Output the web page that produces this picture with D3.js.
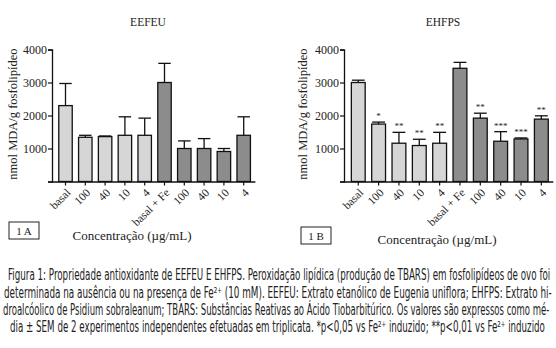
<!DOCTYPE html>
<html><head><meta charset="utf-8">
<script src="https://cdn.jsdelivr.net/npm/d3@7"></script>
<style>
body{margin:0;background:#fff;}
svg{display:block;}
.serif{font-family:"Liberation Serif","DejaVu Serif",serif;fill:#222;}
.cap{font-family:"Liberation Sans Narrow","DejaVu Sans Condensed","Liberation Sans",sans-serif;fill:#222;}
</style></head>
<body>
<script>
const categories = ["basal","100","40","10","4","basal + Fe","100","40","10","4"];
const groups = ["light","light","light","light","light","dark","dark","dark","dark","dark"];
const eefeuMean = [2300,1340,1360,1400,1400,3000,1000,1000,910,1400];
const eefeuErr  = [2970,1400,1380,1960,1920,3580,1230,1300,1000,1960];
const ehfpsMean = [3000,1740,1160,1090,1160,3430,1920,1220,1290,1890];
const ehfpsErr  = [3070,1800,1490,1280,1490,3610,2070,1510,1320,1990];
const ehfpsSig  = ["","*","**","**","**","","**","***","***","**"];
const eefeuSig  = ["","","","","","","","","",""];
const yTicks = [0,1000,2000,3000,4000];
const captionLines = [
 "Figura 1: Propriedade antioxidante de EEFEU E EHFPS. Peroxidação lipídica (produção de TBARS) em fosfolipídeos de ovo foi",
 "determinada na ausência ou na presença de Fe²⁺ (10 mM). EEFEU: Extrato etanólico de Eugenia uniflora; EHFPS: Extrato hi-",
 "droalcóolico de Psidium sobraleanum; TBARS: Substâncias Reativas ao Ácido Tiobarbitúrico. Os valores são expressos como mé-",
 "dia ± SEM de 2 experimentos independentes efetuadas em triplicata. *p<0,05 vs Fe²⁺ induzido; **p<0,01 vs Fe²⁺ induzido"
];

const svg = d3.select("body").append("svg").attr("width",556).attr("height",348);
const fill = {light:"#d6d6d6", dark:"#8c8c8c"};
const C = Math.SQRT1_2;

function panel(o){
  const g = svg.append("g");
  const y = d3.scaleLinear().domain([0,4000]).range([181.5,49.5]);
  const x = d3.scaleBand().domain(d3.range(categories.length)).range([o.x0,o.x1]).paddingInner(0.32).paddingOuter(0.15);
  g.append("text").attr("class","serif").attr("x",o.tx).attr("y",26).attr("text-anchor","middle").attr("font-size",11.5).text(o.title);
  const ya = g.append("g").attr("transform",`translate(${o.ax},0)`)
    .call(d3.axisLeft(y).tickValues(yTicks).tickSize(4).tickFormat(d=>d===0?"":d));
  ya.select(".domain").attr("stroke","#111").attr("stroke-width",1.3);
  ya.selectAll(".tick line").attr("stroke","#111").attr("stroke-width",1.2);
  ya.selectAll(".tick text").attr("class","serif").attr("font-size",12).attr("x",-5).attr("font-family",null);
  g.append("text").attr("class","serif").attr("font-size",12.5)
    .attr("transform",`translate(${o.lx},114) rotate(-90)`).attr("text-anchor","middle").text("nmol MDA/g fosfolipídeo");
  const w = x.bandwidth();
  g.selectAll("rect.bar").data(o.mean).join("rect").attr("class","bar")
    .attr("x",(d,i)=>x(i)).attr("width",w).attr("y",d=>y(d)).attr("height",d=>y(0)-y(d))
    .attr("fill",(d,i)=>fill[groups[i]]).attr("stroke","#111").attr("stroke-width",1.3);
  g.selectAll("line.ev").data(o.err).join("line").attr("class","ev")
    .attr("x1",(d,i)=>x(i)+w/2).attr("x2",(d,i)=>x(i)+w/2)
    .attr("y1",(d,i)=>y(o.mean[i])).attr("y2",d=>y(d)).attr("stroke","#111").attr("stroke-width",1.3);
  g.selectAll("line.ec").data(o.err).join("line").attr("class","ec")
    .attr("x1",(d,i)=>x(i)+0.5).attr("x2",(d,i)=>x(i)+w-0.5)
    .attr("y1",d=>y(d)).attr("y2",d=>y(d)).attr("stroke","#111").attr("stroke-width",1.3);
  g.selectAll("text.sig").data(o.sig).join("text").attr("class","serif sig")
    .attr("x",(d,i)=>x(i)+w/2).attr("y",(d,i)=>y(o.err[i])-3).attr("text-anchor","middle")
    .attr("font-size",9).text(d=>d);
  const xa = g.append("g").attr("transform",`translate(0,${y(0)})`)
    .call(d3.axisBottom(x).tickSize(4).tickSizeOuter(0).tickFormat(""));
  xa.select(".domain").attr("stroke","#111").attr("stroke-width",1.3).attr("d",`M${o.ax},0.5H${o.x1+2}`);
  xa.selectAll(".tick line").attr("stroke","#111").attr("stroke-width",1.2);
  xa.selectAll(".tick text").remove();
  g.selectAll("text.xl").data(categories).join("text").attr("class","serif xl")
    .attr("font-size",11.5).attr("text-anchor","end").attr("dy","0.35em")
    .attr("transform",(d,i)=>`matrix(${C},${-C},${C},${C},${x(i)+w/2+3},${y(0)+9})`)
    .text(d=>d);
  g.append("text").attr("class","serif").attr("font-size",13).attr("x",o.cx).attr("y",o.cy)
    .attr("text-anchor","middle").text("Concentração (µg/mL)");
  g.append("rect").attr("x",o.bx).attr("y",o.by).attr("width",30).attr("height",17)
    .attr("fill","none").attr("stroke","#222").attr("stroke-width",1);
  g.append("text").attr("class","serif").attr("font-size",11).attr("x",o.bx+15).attr("y",o.by+12.5)
    .attr("text-anchor","middle").text(o.box);
}

panel({title:"EEFEU", tx:148, ax:52, x0:55.8, x1:253.4, lx:17, mean:eefeuMean, err:eefeuErr, sig:eefeuSig,
       cx:132, cy:240, bx:9, by:222, box:"1 A"});
panel({title:"EHFPS", tx:443, ax:344, x0:348.3, x1:551.3, lx:307, mean:ehfpsMean, err:ehfpsErr, sig:ehfpsSig,
       cx:437, cy:244, bx:301, by:227, box:"1 B"});

const capX = [8,4,3,10], capW = [543,548,547,535], capY = [280,297.5,314.5,332];
svg.selectAll("text.capline").data(captionLines).join("text").attr("class","cap capline")
  .attr("font-size",16).attr("x",0).attr("y",0).text(d=>d)
  .each(function(d,i){
    const nat = this.getComputedTextLength();
    const sx = capW[i]/nat;
    d3.select(this).attr("transform",`translate(${capX[i]},${capY[i]}) scale(${sx},1)`);
  });
</script>
</body></html>
